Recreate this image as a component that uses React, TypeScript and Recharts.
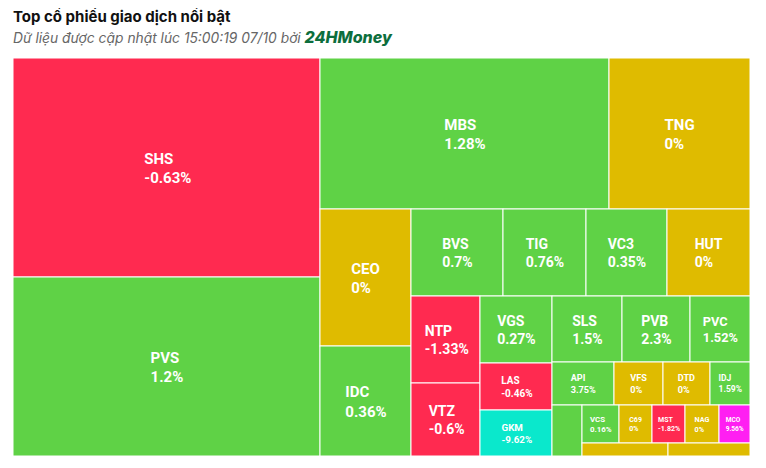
import React from 'react';
import { Treemap } from 'recharts';

// ---- data ----
const tickers = [
  'SHS', 'PVS', 'MBS', 'TNG', 'CEO', 'IDC', 'BVS', 'TIG', 'VC3', 'HUT',
  'NTP', 'VTZ', 'VGS', 'LAS', 'GKM', 'SLS', 'PVB', 'PVC', 'API', 'VFS',
  'DTD', 'IDJ', '', 'VCS', 'C69', 'MST', 'NAG', 'MCO', '', '',
];

// traded size (relative area of each tile)
const volumes = [
  67233, 54953, 43639, 21291, 12467, 10010, 8004, 7221, 7047, 7221,
  6003, 5037, 4824, 3384, 3312, 4620, 4488, 3960, 2666, 2107,
  2021, 1720, 1530, 1406, 1254, 1254, 1292, 1178, 1118, 1066,
];

// price change in %
const changes = [
  -0.63, 1.2, 1.28, 0, 0, 0.36, 0.7, 0.76, 0.35, 0,
  -1.33, -0.6, 0.27, -0.46, -9.62, 1.5, 2.3, 1.52, 3.75, 0,
  0, 1.59, 1, 0.16, 0, -1.82, 0, 9.56, 0, 0,
];

// grouping of tiles (indices into the arrays above)
// "stack" groups lay their parts out one above the other across the full width
const rowA = [2, 3];
const row1 = [6, 7, 8, 9];
const row2 = [15, 16, 17];
const row3 = [18, 19, 20, 21];
const row4 = [23, 24, 25, 26, 27];
const row5 = [28, 29];
const g9 = { stack: true, items: [row4, row5] };
const g8 = [22, g9];
const g7 = { stack: true, items: [row3, g8] };
const g6 = { stack: true, items: [row2, g7] };
const g5 = [12, 13, 14, g6];
const g4 = [10, 11, g5];
const g3 = { stack: true, items: [row1, g4] };
const g2b = [4, 5, g3];
const g2 = { stack: true, items: [rowA, g2b] };
const rootGroups = [0, 1, g2];

const COLORS = {
  up: '#5fd246',
  down: '#ff2a50',
  flat: '#dfbb00',
  ceil: '#ff1ff2',
  floor: '#0ae8cc',
};

const toneOf = (c: number) => {
  if (c >= 9.5) return COLORS.ceil;
  if (c <= -9.5) return COLORS.floor;
  if (c > 0) return COLORS.up;
  if (c < 0) return COLORS.down;
  return COLORS.flat;
};

const build = (node: any, key: string): any => {
  if (typeof node === 'number') {
    return {
      name: tickers[node],
      volume: volumes[node],
      change: changes[node],
      tone: toneOf(changes[node]),
    };
  }
  if (Array.isArray(node)) {
    return { name: key, children: node.map((n: any, i: number) => build(n, `${key}-${i}`)) };
  }
  // stacked group: a zero-size lead entry keeps all parts in one strip
  return {
    name: key,
    children: [
      { name: `${key}-lead`, volume: 0 },
      ...node.items.map((n: any, i: number) => build(n, `${key}-${i}`)),
    ],
  };
};

const treeData = rootGroups.map((n, i) => build(n, `g${i}`));

// Roboto Bold advance widths (em)
const CW: Record<string, number> = {
  '0': 0.562, '1': 0.562, '2': 0.562, '3': 0.562, '4': 0.562, '5': 0.562,
  '6': 0.562, '7': 0.562, '8': 0.562, '9': 0.562, '.': 0.27, '%': 0.73, '-': 0.28,
  A: 0.66, B: 0.63, C: 0.65, D: 0.65, E: 0.57, F: 0.55, G: 0.68, H: 0.71, I: 0.28,
  J: 0.55, K: 0.63, L: 0.54, M: 0.87, N: 0.71, O: 0.69, P: 0.64, Q: 0.69, R: 0.63,
  S: 0.61, T: 0.61, U: 0.65, V: 0.65, W: 0.87, X: 0.63, Y: 0.61, Z: 0.61,
};
const textWidth = (s: string, fs: number) => {
  let w = 0;
  for (const ch of s) w += CW[ch] ?? 0.6;
  return w * fs;
};

const TileContent = (props: any) => {
  const { x, y, width, height, name, change, tone } = props;
  if (tone === undefined || width <= 0 || height <= 0) return null;
  const m = Math.min(width, height);
  const fs = m >= 90 ? 15 : Math.max(5, Math.min(14, m / 4.7));
  const pct = `${change}%`;
  const bw = Math.max(textWidth(name || '', fs), textWidth(pct, fs));
  const show = !!name && m >= 22 && bw < width - 2;
  const lx = x + width / 2 - bw / 2;
  const cy = y + height / 2;
  return (
    <g>
      <rect x={x} y={y} width={width} height={height} fill={tone} stroke="#ffffff" strokeWidth={1} />
      {show && (
        <text fill="#ffffff" fontSize={fs} fontWeight={700} fontFamily="Roboto, 'Noto Sans', sans-serif">
          <tspan x={lx} y={cy - 0.25 * fs}>{name}</tspan>
          <tspan x={lx} y={cy + 1.05 * fs}>{pct}</tspan>
        </text>
      )}
    </g>
  );
};

export default function App() {
  return (
    <div style={{ position: 'relative', width: 750, height: 452, background: '#fff' }}>
      <div
        style={{
          position: 'absolute', left: 5, top: 0, fontFamily: 'Inter, sans-serif', fontWeight: 700,
          fontSize: 15, lineHeight: '18px', color: '#111', whiteSpace: 'nowrap',
        }}
      >
        Top cổ phiếu giao dịch nổi bật
      </div>
      <div
        style={{
          position: 'absolute', left: 5, top: 21, fontFamily: 'Inter, sans-serif', fontStyle: 'italic',
          fontSize: 13.8, lineHeight: '17px', color: '#666', whiteSpace: 'nowrap',
        }}
      >
        Dữ liệu được cập nhật lúc 15:00:19 07/10 bởi{' '}
        <span style={{ fontWeight: 800, fontSize: 16, color: '#0d6e3d' }}>24HMoney</span>
      </div>
      <div style={{ position: 'absolute', left: 5, top: 50 }}>
        <Treemap
          width={737}
          height={398}
          data={treeData}
          dataKey="volume"
          nameKey="name"
          aspectRatio={1.6}
          isAnimationActive={false}
          content={<TileContent />}
        />
      </div>
    </div>
  );
}
